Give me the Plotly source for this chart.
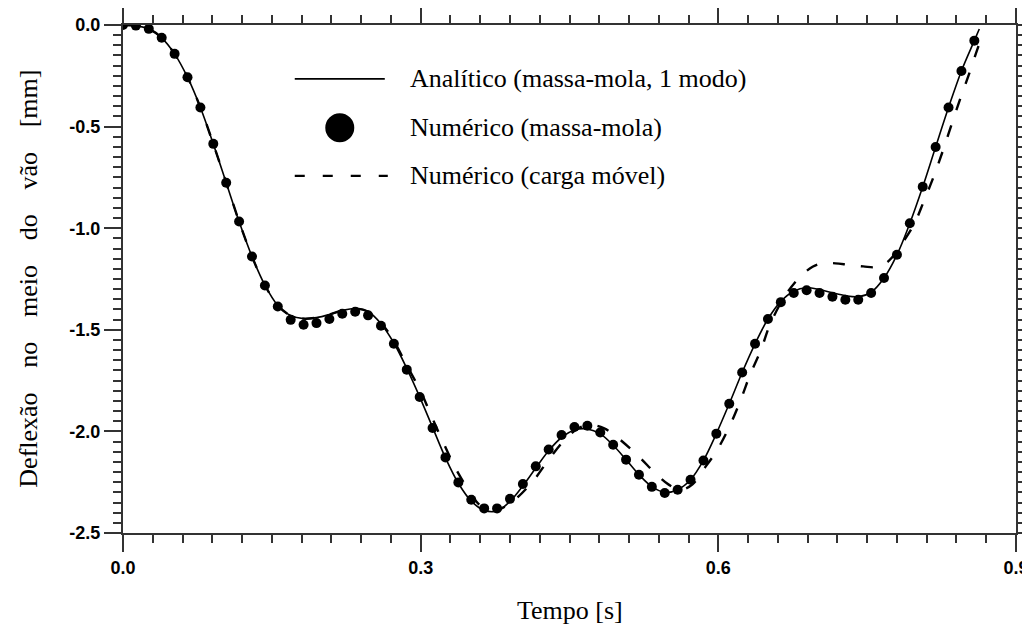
import plotly.graph_objects as go

# ---------------- data ----------------
# Numérico (massa-mola) : dots
dot_t = [0.000, 0.013, 0.026, 0.039, 0.052, 0.065, 0.078, 0.091, 0.104, 0.117,
         0.130, 0.143, 0.156, 0.169, 0.182, 0.195, 0.208, 0.221, 0.234, 0.247,
         0.260, 0.273, 0.286, 0.299, 0.312, 0.325, 0.338, 0.351, 0.364, 0.377,
         0.390, 0.403, 0.416, 0.429, 0.442, 0.455, 0.468, 0.481, 0.494, 0.507,
         0.520, 0.533, 0.546, 0.559, 0.572, 0.585, 0.598, 0.611, 0.624, 0.637,
         0.650, 0.663, 0.676, 0.689, 0.702, 0.715, 0.728, 0.741, 0.754, 0.767,
         0.780, 0.793, 0.806, 0.819, 0.832, 0.845, 0.858]
dot_d = [0.000, -0.003, -0.019, -0.063, -0.142, -0.257, -0.406, -0.585, -0.776, -0.967,
         -1.139, -1.282, -1.385, -1.451, -1.475, -1.467, -1.447, -1.421, -1.411, -1.429,
         -1.480, -1.569, -1.696, -1.831, -1.983, -2.128, -2.251, -2.336, -2.379, -2.379,
         -2.332, -2.259, -2.172, -2.089, -2.018, -1.978, -1.972, -2.005, -2.066, -2.139,
         -2.213, -2.273, -2.303, -2.287, -2.238, -2.143, -2.011, -1.864, -1.710, -1.569,
         -1.447, -1.364, -1.319, -1.305, -1.319, -1.337, -1.352, -1.352, -1.319, -1.245,
         -1.131, -0.976, -0.796, -0.600, -0.406, -0.226, -0.077]

# Analítico (massa-mola, 1 modo) : solid line
ana_t = [0.000, 0.013, 0.026, 0.039, 0.052, 0.065, 0.078, 0.091, 0.104, 0.117,
         0.130, 0.143, 0.156, 0.169, 0.182, 0.195, 0.208, 0.221, 0.234, 0.247,
         0.260, 0.273, 0.286, 0.299, 0.312, 0.325, 0.338, 0.351, 0.364, 0.377,
         0.390, 0.403, 0.416, 0.429, 0.442, 0.455, 0.468, 0.481, 0.494, 0.507,
         0.520, 0.533, 0.546, 0.559, 0.572, 0.585, 0.598, 0.611, 0.624, 0.637,
         0.650, 0.663, 0.676, 0.689, 0.702, 0.715, 0.728, 0.741, 0.754, 0.767,
         0.780, 0.793, 0.806, 0.819, 0.832, 0.845, 0.858, 0.863]
ana_d = [0.000, -0.003, -0.019, -0.063, -0.142, -0.257, -0.406, -0.585, -0.776, -0.967,
         -1.139, -1.280, -1.380, -1.430, -1.445, -1.440, -1.425, -1.405, -1.395, -1.410,
         -1.470, -1.565, -1.690, -1.830, -1.980, -2.130, -2.255, -2.343, -2.388, -2.392,
         -2.345, -2.268, -2.180, -2.095, -2.030, -1.993, -1.988, -2.012, -2.068, -2.139,
         -2.213, -2.272, -2.300, -2.287, -2.238, -2.143, -2.011, -1.864, -1.710, -1.569,
         -1.447, -1.360, -1.310, -1.293, -1.302, -1.318, -1.332, -1.337, -1.315, -1.245,
         -1.131, -0.976, -0.796, -0.600, -0.406, -0.226, -0.077, -0.020]

# Numérico (carga móvel) : dashed line
mov_t = [0.000, 0.013, 0.026, 0.039, 0.052, 0.065, 0.078, 0.091, 0.104, 0.117,
         0.130, 0.143, 0.156, 0.169, 0.182, 0.195, 0.208, 0.221, 0.234, 0.247,
         0.260, 0.273, 0.286, 0.300, 0.311, 0.323, 0.335, 0.348, 0.358, 0.372,
         0.383, 0.395, 0.413, 0.429, 0.447, 0.460, 0.472, 0.485, 0.497, 0.518,
         0.538, 0.550, 0.562, 0.574, 0.585, 0.599, 0.612, 0.622, 0.632, 0.643,
         0.652, 0.667, 0.682, 0.695, 0.705, 0.718, 0.731, 0.746, 0.761, 0.772,
         0.783, 0.797, 0.807, 0.817, 0.826, 0.835, 0.844, 0.853, 0.862, 0.868]
mov_d = [0.000, -0.003, -0.019, -0.063, -0.142, -0.257, -0.406, -0.585, -0.776, -0.967,
         -1.139, -1.280, -1.380, -1.430, -1.445, -1.440, -1.425, -1.405, -1.395, -1.410,
         -1.465, -1.555, -1.675, -1.803, -1.926, -2.057, -2.180, -2.287, -2.355, -2.392,
         -2.375, -2.336, -2.246, -2.139, -2.032, -1.982, -1.968, -1.985, -2.025, -2.115,
         -2.213, -2.262, -2.288, -2.260, -2.188, -2.090, -1.967, -1.852, -1.721, -1.598,
         -1.475, -1.335, -1.241, -1.190, -1.172, -1.173, -1.180, -1.188, -1.191, -1.160,
         -1.090, -0.983, -0.869, -0.746, -0.623, -0.491, -0.360, -0.237, -0.106, -0.030]

x_tickvals = [0.0, 0.3, 0.6, 0.9]
x_ticktext = ["0.0", "0.3", "0.6", "0.9"]
y_tickvals = [-2.5, -2.0, -1.5, -1.0, -0.5, 0.0]
y_ticktext = ["-2.5", "-2.0", "-1.5", "-1.0", "-0.5", "0.0"]

legend_labels = ["Analítico (massa-mola, 1 modo)",
                 "Numérico (massa-mola)",
                 "Numérico (carga móvel)"]
x_title = "Tempo [s]"
y_words = ["Deflexão", "no", "meio", "do", "vão", "[mm]"]

# ---------------- figure ----------------
SERIF = "Liberation Serif, Times New Roman, serif"
SANS = "Liberation Sans, Arial, sans-serif"
AX = "#333333"

fig = go.Figure()
fig.add_trace(go.Scatter(x=mov_t, y=mov_d, mode="lines", line_shape="spline",
                         line=dict(color="black", width=2.4, dash="12px,16px"),
                         showlegend=False))
fig.add_trace(go.Scatter(x=ana_t, y=ana_d, mode="lines", line_shape="spline",
                         line=dict(color="black", width=1.6), showlegend=False))
fig.add_trace(go.Scatter(x=dot_t, y=dot_d, mode="markers",
                         marker=dict(color="black", size=10), showlegend=False))

axis_common = dict(ticks="outside", ticklen=17, tickwidth=2, tickcolor=AX,
                   showline=True, linewidth=2, linecolor=AX, mirror="ticks",
                   showgrid=False, zeroline=False, automargin=False,
                   tickfont=dict(family=SANS, size=18, color="black", weight="bold"))

fig.update_xaxes(range=[0, 0.9], tickmode="array", tickvals=x_tickvals, ticktext=x_ticktext,
                 minor=dict(dtick=0.03, tick0=0, ticks="outside", ticklen=8,
                            tickwidth=2, tickcolor=AX, showgrid=False),
                 **axis_common)
fig.update_yaxes(range=[-2.5, 0], tickmode="array", tickvals=y_tickvals, ticktext=y_ticktext,
                 minor=dict(dtick=0.05, tick0=0, ticks="outside", ticklen=8,
                            tickwidth=2, tickcolor=AX, showgrid=False),
                 **axis_common)

# custom legend (paper coordinates; plot area = 123..1016 px by 25..533 px in the window)
def px_x(p):
    return (p - 123.3) / 892.7

def px_y(p):
    return (533.3 - p) / 508.2

rows = [79, 128, 176]
shapes = [
    dict(type="line", xref="paper", yref="paper", x0=px_x(295), x1=px_x(385),
         y0=px_y(rows[0]), y1=px_y(rows[0]), line=dict(color="black", width=1.6)),
    dict(type="circle", xref="paper", yref="paper", xsizemode="pixel", ysizemode="pixel",
         xanchor=px_x(340), yanchor=px_y(rows[1]), x0=-14.5, x1=14.5, y0=-14.5, y1=14.5,
         fillcolor="black", line=dict(color="black", width=0)),
    dict(type="line", xref="paper", yref="paper", x0=px_x(295), x1=px_x(388),
         y0=px_y(rows[2]), y1=px_y(rows[2]),
         line=dict(color="black", width=2.4, dash="10px,18px")),
]
annotations = []
for lab, r in zip(legend_labels, rows):
    annotations.append(dict(text=lab, xref="paper", yref="paper", x=px_x(408), y=px_y(r),
                            xanchor="left", yanchor="middle", showarrow=False,
                            font=dict(family=SERIF, size=26, color="black")))
annotations.append(dict(text=x_title, xref="paper", yref="paper", x=0.5, y=px_y(611),
                        xanchor="center", yanchor="middle", showarrow=False,
                        font=dict(family=SERIF, size=26, color="black")))
gap = "\u00a0" * 3 + "\u2009"
annotations.append(dict(text=gap.join(y_words), xref="paper", yref="paper",
                        x=px_x(28), y=0.5, xanchor="center", yanchor="middle",
                        textangle=-90, showarrow=False,
                        font=dict(family=SERIF, size=26, color="black")))

# the page body has an 8px margin, so the figure is 8px smaller and offset:
# plot area in figure coords = 115..1008 px by 17..525 px
fig.update_layout(width=1022, height=622, paper_bgcolor="white", plot_bgcolor="white",
                  margin=dict(l=115, r=14, t=17, b=97, autoexpand=False), showlegend=False,
                  shapes=shapes, annotations=annotations)

fig.write_html("out.html")
